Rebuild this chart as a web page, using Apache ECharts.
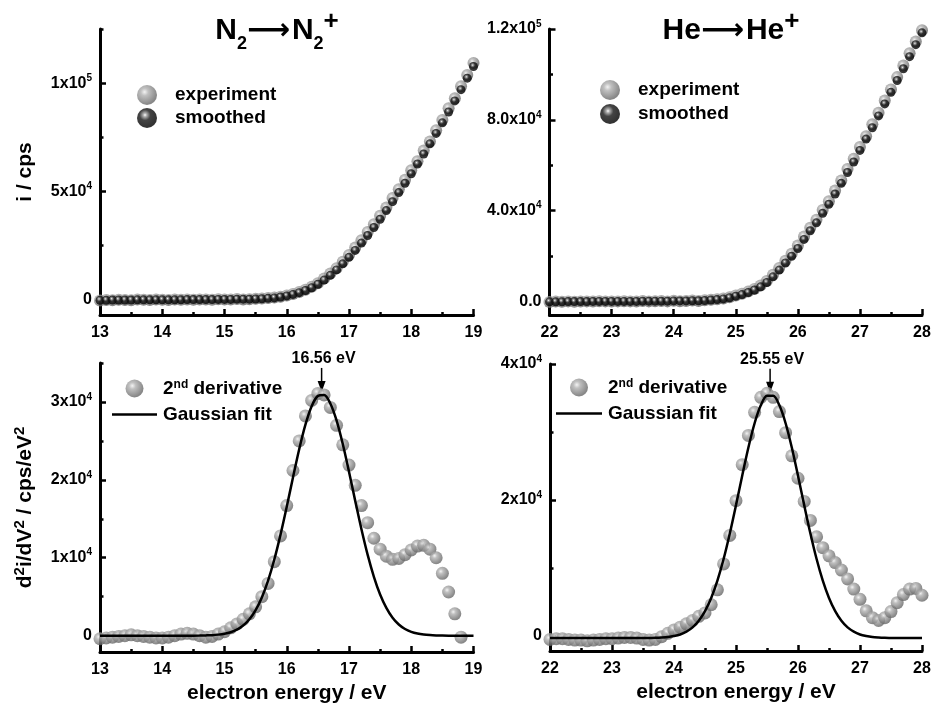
<!DOCTYPE html>
<html>
<head>
<meta charset="utf-8">
<title>N2 and He ionization thresholds</title>
<script src="https://cdn.jsdelivr.net/npm/echarts@6.0.0/dist/echarts.min.js"></script>
<style>
  html, body { margin: 0; padding: 0; background: #fff; }
  #main { width: 931px; height: 704px; }
</style>
</head>
<body>
<div id="main"></div>
<script>
// energies (eV)
const n2Energy = [13.0, 13.1, 13.2, 13.3, 13.4, 13.5, 13.6, 13.7, 13.8, 13.9,
  14.0, 14.1, 14.2, 14.3, 14.4, 14.5, 14.6, 14.7, 14.8, 14.9,
  15.0, 15.1, 15.2, 15.3, 15.4, 15.5, 15.6, 15.7, 15.8, 15.9,
  16.0, 16.1, 16.2, 16.3, 16.4, 16.5, 16.6, 16.7, 16.8, 16.9,
  17.0, 17.1, 17.2, 17.3, 17.4, 17.5, 17.6, 17.7, 17.8, 17.9,
  18.0, 18.1, 18.2, 18.3, 18.4, 18.5, 18.6, 18.7, 18.8, 18.9, 19.0];
const heEnergy = [22.0, 22.1, 22.2, 22.3, 22.4, 22.5, 22.6, 22.7, 22.8, 22.9,
  23.0, 23.1, 23.2, 23.3, 23.4, 23.5, 23.6, 23.7, 23.8, 23.9,
  24.0, 24.1, 24.2, 24.3, 24.4, 24.5, 24.6, 24.7, 24.8, 24.9,
  25.0, 25.1, 25.2, 25.3, 25.4, 25.5, 25.6, 25.7, 25.8, 25.9,
  26.0, 26.1, 26.2, 26.3, 26.4, 26.5, 26.6, 26.7, 26.8, 26.9,
  27.0, 27.1, 27.2, 27.3, 27.4, 27.5, 27.6, 27.7, 27.8, 27.9, 28.0];

// ion current, cps
const n2Experiment = [-300, -100, -200, 0, -100, -200, 100, 0, -100, 100,
  0, -100, 100, 0, 200, 0, 100, 200, 0, 300,
  100, 200, 400, 200, 300, 500, 600, 800, 1100, 1400,
  2000, 2700, 3600, 4600, 6000, 7700, 9800, 12100, 14600, 17600,
  20700, 24100, 27500, 31300, 34900, 38800, 42600, 47000, 51000, 55400,
  59800, 64000, 68900, 73100, 78300, 83000, 88400, 93000, 98600, 103800, 109300];
const n2Smoothed = [-200, -200, -100, -100, -100, -100, 0, 0, 0, 0,
  0, 0, 0, 0, 100, 100, 100, 100, 100, 200,
  200, 200, 300, 300, 300, 400, 500, 700, 900, 1300,
  1800, 2500, 3300, 4300, 5600, 7200, 9100, 11300, 13800, 16600,
  19600, 22800, 26200, 29700, 33400, 37200, 41200, 45300, 49500, 53800,
  58200, 62700, 67300, 72000, 76800, 81700, 86700, 91800, 97000, 102300, 107700];
const heExperiment = [-300, -100, -200, 0, -200, -100, 0, -100, 100, 0,
  -100, 0, 100, 0, -100, 200, 0, 100, 200, 0,
  300, 100, 200, 400, 200, 500, 700, 900, 1300, 1800,
  2600, 3400, 4300, 5500, 7000, 9000, 11700, 14700, 17900, 21000,
  24600, 28600, 32400, 36000, 40300, 44100, 48800, 53300, 58300, 62800,
  68000, 72800, 78000, 83100, 88500, 93400, 98800, 103900, 109300, 114500, 119500];
const heSmoothed = [-200, -200, -200, -100, -100, -100, -100, 0, 0, 0,
  0, 0, 0, 0, 0, 100, 100, 100, 100, 100,
  200, 200, 200, 300, 300, 400, 600, 800, 1100, 1600,
  2300, 3000, 3900, 5000, 6400, 8300, 10800, 13800, 16900, 19900,
  23300, 27300, 31100, 34600, 38800, 42800, 47300, 52000, 56800, 61400,
  66500, 71500, 76500, 81700, 87000, 92100, 97300, 102500, 107800, 113100, 118300];

// second derivative, cps/eV^2 (N2 ends at 18.8 eV)
const n2Derivative = [-400, -300, -200, -100, 0, 100, 0, -100, -200, -300,
  -300, -200, 0, 200, 300, 200, 0, -200, -100, 200,
  500, 1000, 1500, 2100, 2800, 3700, 5000, 6700, 9500, 12800,
  16700, 21200, 25000, 28200, 30200, 31100, 30900, 29300, 27000, 24500,
  21900, 19300, 16700, 14500, 12500, 11100, 10200, 9800, 9900, 10400,
  11000, 11500, 11600, 11100, 10000, 8000, 5600, 2800, -200];
const n2Fit = [0, 0, 0, 0, 0, 0, 0, 0, 0, 0,
  0, 0, 0, 0, 0, 0, 10, 30, 60, 130,
  240, 440, 770, 1300, 2100, 3280, 4910, 7060, 9770, 12970,
  16550, 20300, 23920, 27080, 29450, 30780, 30900, 29810, 27630, 24600,
  21050, 17300, 13660, 10370, 7560, 5290, 3570, 2300, 1430, 850,
  490, 270, 140, 70, 30, 10, 0, 0, 0, 0, 0];
const heDerivative = [-500, -400, -400, -500, -600, -600, -700, -600, -500, -400,
  -400, -300, -200, -200, -300, -500, -600, -500, -100, 400,
  900, 1300, 1800, 2300, 2900, 3400, 4600, 6800, 10600, 14800,
  19900, 25200, 29500, 32900, 35100, 35700, 35100, 33000, 29900, 26500,
  23200, 19800, 17000, 14600, 13000, 11800, 10800, 9700, 8400, 6900,
  5400, 3700, 2700, 2300, 2700, 3600, 4900, 6100, 6900, 7000, 6000];
const heFit = [-300, -300, -300, -300, -300, -300, -300, -300, -300, -300,
  -300, -300, -300, -300, -300, -300, -280, -260, -220, -150,
  0, 230, 640, 1270, 2240, 3650, 5590, 8140, 11320, 15080,
  19250, 23580, 27720, 31290, 33920, 35320, 35320, 33920, 31290, 27720,
  23580, 19250, 15080, 11320, 8140, 5590, 3650, 2240, 1270, 640,
  230, 0, -150, -220, -260, -280, -300, -300, -300, -300, -300];

// peak positions from the fits
const n2Peak = [16.56, 30900];
const hePeak = [25.55, 35320];

// tick values and labels for the four y axes
const n2CurrentTicks = [0, 50000, 100000];
const n2CurrentLabels = ['0', '5x10^4', '1x10^5'];
const n2CurrentMinor = [25000, 75000, 125000];
const heCurrentTicks = [0, 40000, 80000, 120000];
const heCurrentLabels = ['0.0', '4.0x10^4', '8.0x10^4', '1.2x10^5'];
const heCurrentMinor = [20000, 60000, 100000];
const n2DerivTicks = [0, 10000, 20000, 30000];
const n2DerivLabels = ['0', '1x10^4', '2x10^4', '3x10^4'];
const n2DerivMinor = [5000, 15000, 25000, 35000];
const heDerivTicks = [0, 20000, 40000];
const heDerivLabels = ['0', '2x10^4', '4x10^4'];
const heDerivMinor = [10000, 30000];

const FONT = '"Liberation Sans", Arial, sans-serif';
const chart = echarts.init(document.getElementById('main'));

const pairs = (xs, ys) => ys.map((y, i) => [xs[i], y]);

const grayBall = {
  type: 'radial', x: 0.38, y: 0.35, r: 0.62,
  colorStops: [
    { offset: 0, color: '#f0f0f0' },
    { offset: 0.3, color: '#b0b0b0' },
    { offset: 1, color: '#6a6a6a' }
  ]
};
const blackBall = {
  type: 'radial', x: 0.4, y: 0.35, r: 0.6,
  colorStops: [
    { offset: 0, color: '#ffffff' },
    { offset: 0.15, color: '#9a9a9a' },
    { offset: 0.45, color: '#151515' },
    { offset: 1, color: '#000' }
  ]
};

function supLabel(s) {
  const p = s.split('^');
  return p.length > 1 ? '{m|' + p[0] + '}{s|' + p[1] + '}' : '{m|' + s + '}';
}

const tickRich = {
  m: { fontSize: 16, fontWeight: 'bold', color: '#000', fontFamily: FONT, lineHeight: 20 },
  s: { fontSize: 10, fontWeight: 'bold', color: '#000', fontFamily: FONT, lineHeight: 13, verticalAlign: 'top' }
};
const nameRich = {
  n: { fontSize: 21, fontWeight: 'bold', color: '#000', fontFamily: FONT, lineHeight: 26 },
  s: { fontSize: 15, fontWeight: 'bold', color: '#000', fontFamily: FONT, lineHeight: 18, verticalAlign: 'top' }
};

function xAxis(grid, min, max, withName) {
  return {
    type: 'value', gridIndex: grid, min: min, max: max, interval: 1,
    name: withName ? 'electron energy / eV' : '',
    nameLocation: 'middle', nameGap: 31,
    nameTextStyle: { fontSize: 21, fontWeight: 'bold', color: '#000', fontFamily: FONT },
    axisLine: { show: true, onZero: false, lineStyle: { color: '#000', width: 3 } },
    axisTick: { show: true, inside: true, length: 6, lineStyle: { color: '#000', width: 2.5 } },
    minorTick: { show: true, splitNumber: 2, length: 3, lineStyle: { color: '#000', width: 2.5 } },
    axisLabel: { fontSize: 16, fontWeight: 'bold', color: '#000', fontFamily: FONT, margin: 10 },
    splitLine: { show: false }
  };
}

function yAxes(grid, min, max, ticks, labels, minor, name, gap) {
  return [{
    type: 'value', gridIndex: grid, position: 'left', min: min, max: max,
    name: name, nameLocation: 'middle', nameGap: gap, nameRotate: 90,
    nameTextStyle: { rich: nameRich },
    axisLine: { show: true, onZero: false, lineStyle: { color: '#000', width: 3 } },
    axisTick: { show: true, inside: true, length: 6, customValues: ticks, lineStyle: { color: '#000', width: 2.5 } },
    axisLabel: {
      show: true, margin: 8, customValues: ticks, rich: tickRich,
      formatter: v => {
        const i = ticks.indexOf(v);
        return i >= 0 ? supLabel(labels[i]) : '';
      }
    },
    splitLine: { show: false }
  }, {
    type: 'value', gridIndex: grid, position: 'left', min: min, max: max,
    axisLine: { show: false, onZero: false },
    axisTick: { show: true, inside: true, length: 3.5, customValues: minor, lineStyle: { color: '#000', width: 2.5 } },
    axisLabel: { show: false },
    splitLine: { show: false }
  }];
}

function legend(names, left, top, w, h, gap) {
  return {
    data: names.map(n => n === 'Gaussian fit'
      ? { name: n, icon: 'path://M0,0 H46 V2.6 H0 Z' }
      : { name: n }),
    left: left, top: top, orient: 'vertical', padding: 0,
    itemWidth: w, itemHeight: h, itemGap: gap, selectedMode: false,
    formatter: name => name === '2nd derivative' ? '{n|2}{s|nd}{n| derivative}' : '{n|' + name + '}',
    textStyle: {
      padding: [0, 0, 0, w < 30 ? 13 : 1],
      rich: {
        n: { fontSize: 19, fontWeight: 'bold', color: '#000', fontFamily: FONT },
        s: { fontSize: 12, fontWeight: 'bold', color: '#000', fontFamily: FONT, verticalAlign: 'top', lineHeight: 14 }
      }
    }
  };
}

const titleRich = {
  b: { fontSize: 30, fontWeight: 'bold', fontFamily: FONT, fill: '#000', lineHeight: 44 },
  ar: { fontSize: 30, fontFamily: '"DejaVu Sans"', fontWeight: 'bold', fill: '#000', lineHeight: 44, padding: [0, 2, 0, 0] },
  sub: { fontSize: 18, fontWeight: 'bold', fontFamily: FONT, fill: '#000', lineHeight: 10, verticalAlign: 'bottom' },
  sup: { fontSize: 26, fontWeight: 'bold', fontFamily: FONT, fill: '#000', lineHeight: 30, verticalAlign: 'top' }
};

chart.setOption({
  animation: false,
  backgroundColor: '#fff',
  textStyle: { fontFamily: FONT },
  grid: [
    { left: 100, top: 29, width: 373.5, height: 286, outerBoundsMode: 'none' },
    { left: 549.5, top: 29, width: 372.5, height: 286, outerBoundsMode: 'none' },
    { left: 100, top: 363, width: 373.5, height: 289, outerBoundsMode: 'none' },
    { left: 550, top: 364, width: 372, height: 287, outerBoundsMode: 'none' }
  ],
  xAxis: [
    xAxis(0, 13, 19, false),
    xAxis(1, 22, 28, false),
    xAxis(2, 13, 19, true),
    xAxis(3, 22, 28, true)
  ],
  yAxis: [].concat(
    yAxes(0, -7000, 125000, n2CurrentTicks, n2CurrentLabels, n2CurrentMinor, '{n|i / cps}', 62),
    yAxes(1, -6000, 120000, heCurrentTicks, heCurrentLabels, heCurrentMinor, '', 62),
    yAxes(2, -2100, 35000, n2DerivTicks, n2DerivLabels, n2DerivMinor,
      '{n|d}{s|2}{n|i/dV}{s|2}{n| / cps/eV}{s|2}', 62),
    yAxes(3, -2200, 40000, heDerivTicks, heDerivLabels, heDerivMinor, '', 64)
  ),
  legend: [
    legend(['experiment', 'smoothed'], 137, 85, 20, 20, 3),
    legend(['experiment', 'smoothed'], 600, 80, 20, 20, 4),
    legend(['2nd derivative', 'Gaussian fit'], 112, 379, 45, 18, 7),
    legend(['2nd derivative', 'Gaussian fit'], 556, 378, 46, 18, 7)
  ],
  series: [
    { name: 'experiment', type: 'scatter', xAxisIndex: 0, yAxisIndex: 0, data: pairs(n2Energy, n2Experiment),
      symbolSize: 12, itemStyle: { color: grayBall } },
    { name: 'smoothed', type: 'scatter', xAxisIndex: 0, yAxisIndex: 0, data: pairs(n2Energy, n2Smoothed),
      symbolSize: 9, itemStyle: { color: blackBall } },
    { name: 'experiment', type: 'scatter', xAxisIndex: 1, yAxisIndex: 2, data: pairs(heEnergy, heExperiment),
      symbolSize: 12, itemStyle: { color: grayBall } },
    { name: 'smoothed', type: 'scatter', xAxisIndex: 1, yAxisIndex: 2, data: pairs(heEnergy, heSmoothed),
      symbolSize: 9, itemStyle: { color: blackBall } },
    { name: '2nd derivative', type: 'scatter', xAxisIndex: 2, yAxisIndex: 4, data: pairs(n2Energy, n2Derivative),
      symbolSize: 13, itemStyle: { color: grayBall } },
    { name: 'Gaussian fit', type: 'line', xAxisIndex: 2, yAxisIndex: 4, data: pairs(n2Energy, n2Fit),
      symbol: 'none', smooth: 0.3, lineStyle: { color: '#000', width: 2.5 }, itemStyle: { color: '#000' }, z: 3 },
    { name: '2nd derivative', type: 'scatter', xAxisIndex: 3, yAxisIndex: 6, data: pairs(heEnergy, heDerivative),
      symbolSize: 13, itemStyle: { color: grayBall } },
    { name: 'Gaussian fit', type: 'line', xAxisIndex: 3, yAxisIndex: 6, data: pairs(heEnergy, heFit),
      symbol: 'none', smooth: 0.3, lineStyle: { color: '#000', width: 2.5 }, itemStyle: { color: '#000' }, z: 3 }
  ]
});

// titles and peak arrows
function peakMarker(grid, yIdx, peak) {
  const p = chart.convertToPixel({ xAxisIndex: grid, yAxisIndex: yIdx }, peak);
  return [
    { type: 'line', shape: { x1: p[0], y1: p[1] - 27, x2: p[0], y2: p[1] - 12 },
      style: { stroke: '#000', lineWidth: 1.5 } },
    { type: 'polygon', shape: { points: [[p[0] - 4, p[1] - 14], [p[0] + 4, p[1] - 14], [p[0], p[1] - 3]] },
      style: { fill: '#000' } },
    { type: 'text', x: p[0] + 2, y: p[1] - 36,
      style: { text: peak[0].toFixed(2) + ' eV', font: 'bold 16px ' + FONT, fill: '#000',
        align: 'center', verticalAlign: 'middle' } }
  ];
}

chart.setOption({
  graphic: [
    { type: 'text', x: 277, y: 9,
      style: { text: '{b|N}{sub|2}{ar|⟶}{b|N}{sub|2}{sup|+}', rich: titleRich, align: 'center', verticalAlign: 'top' } },
    { type: 'text', x: 731, y: 9,
      style: { text: '{b|He}{ar|⟶}{b|He}{sup|+}', rich: titleRich, align: 'center', verticalAlign: 'top' } }
  ].concat(peakMarker(2, 4, n2Peak), peakMarker(3, 6, hePeak))
});
</script>
</body>
</html>
